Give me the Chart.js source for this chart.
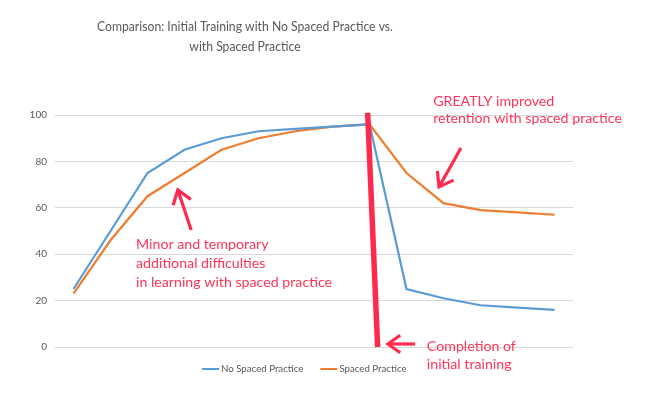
<!DOCTYPE html>
<html>
<head>
<meta charset="utf-8">
<script src="https://cdn.jsdelivr.net/npm/chart.js@4"></script>
<style>
  html, body { margin: 0; padding: 0; background: #ffffff; }
  #wrap { width: 648px; height: 397px; position: relative; }
</style>
</head>
<body>
<div id="wrap"><canvas id="c" width="648" height="397"></canvas></div>
<script>
// ---- data ----
const categories = ['1','2','3','4','5','6','7','8','9','10','11','12','13','14'];
const noSpacedPractice = [25, 50, 75, 85, 90, 93, 94, 95, 96, 25, 21, 18, 17, 16];
const spacedPractice   = [23, 46, 65, 75, 85, 90, 93, 95, 96, 75, 62, 59, 58, 57];
const seriesNames = ['No Spaced Practice', 'Spaced Practice'];
const titleLines = ['Comparison: Initial Training with No Spaced Practice vs.', 'with Spaced Practice'];
const noteMinor = ['Minor and temporary', 'additional difficulties', 'in learning with spaced practice'];
const noteGreatly = ['GREATLY improved', 'retention with spaced practice'];
const noteCompletion = ['Completion of', 'initial training'];

const RED = '#fe2a4e';
const TXT_RED = '#ff3458';
const GRAY = '#595959';
const FONT = 'Lato, "Open Sans", sans-serif';

function arrow(ctx, x1, y1, x2, y2, head, width) {
  ctx.save();
  ctx.strokeStyle = RED;
  ctx.lineWidth = width;
  ctx.lineCap = 'butt';
  ctx.lineJoin = 'miter';
  ctx.beginPath();
  ctx.moveTo(x1, y1);
  ctx.lineTo(x2, y2);
  ctx.stroke();
  const a = Math.atan2(y2 - y1, x2 - x1);
  const s = 0.62;
  ctx.beginPath();
  ctx.moveTo(x2 - head * Math.cos(a - s), y2 - head * Math.sin(a - s));
  ctx.lineTo(x2, y2);
  ctx.lineTo(x2 - head * Math.cos(a + s), y2 - head * Math.sin(a + s));
  ctx.stroke();
  ctx.restore();
}

function squeezedText(ctx, text, cx, cy, sx) {
  ctx.save();
  ctx.translate(cx, cy);
  ctx.scale(sx, 1);
  ctx.fillText(text, 0, 0);
  ctx.restore();
}

const overlay = {
  id: 'overlay',
  afterDraw(chart) {
    const ctx = chart.ctx;
    const xs = chart.scales.x, ys = chart.scales.y;
    const px = v => xs.getPixelForValue(v);
    const py = v => ys.getPixelForValue(v);

    // title
    ctx.save();
    ctx.fillStyle = GRAY;
    ctx.font = '13.4px ' + FONT;
    ctx.textAlign = 'center';
    ctx.textBaseline = 'middle';
    squeezedText(ctx, titleLines[0], 245, 27, 0.91);
    squeezedText(ctx, titleLines[1], 245, 47, 0.91);
    ctx.restore();

    // legend
    ctx.save();
    ctx.font = '9.7px ' + FONT;
    ctx.textBaseline = 'middle';
    let lx = 202;
    const ly = 369;
    chart.data.datasets.forEach(ds => {
      ctx.strokeStyle = ds.borderColor;
      ctx.lineWidth = 2;
      ctx.beginPath();
      ctx.moveTo(lx, ly); ctx.lineTo(lx + 17, ly);
      ctx.stroke();
      ctx.fillStyle = GRAY;
      ctx.textAlign = 'left';
      ctx.fillText(ds.label, lx + 19, ly);
      lx += 19 + ctx.measureText(ds.label).width + 17;
    });
    ctx.restore();

    // big red "completion" line
    ctx.save();
    ctx.strokeStyle = RED;
    ctx.lineWidth = 5.5;
    ctx.beginPath();
    ctx.moveTo(px(7.95), py(100.9));
    ctx.lineTo(px(8.22), py(0));
    ctx.stroke();
    ctx.restore();

    // arrows
    arrow(ctx, px(9.23), py(1.3), px(8.5), py(1.3), 15, 3.2);
    arrow(ctx, px(10.47), py(85.8), px(9.88), py(69), 16, 3.2);
    arrow(ctx, px(3.18), py(50.4), px(2.82), py(67.7), 16, 3.2);

    // notes
    ctx.save();
    ctx.fillStyle = TXT_RED;
    ctx.font = '14.2px ' + FONT;
    ctx.textAlign = 'left';
    ctx.textBaseline = 'middle';
    noteMinor.forEach((t, k) => ctx.fillText(t, px(1.69), py(44.4) + k * 19));
    noteGreatly.forEach((t, k) => ctx.fillText(t, px(9.72), py(106) + k * 17));
    noteCompletion.forEach((t, k) => ctx.fillText(t, px(9.55), py(0.4) + k * 18));
    ctx.restore();
  }
};

new Chart(document.getElementById('c'), {
  type: 'line',
  data: {
    labels: categories,
    datasets: [
      { label: seriesNames[0], data: noSpacedPractice, borderColor: '#5b9bd5', backgroundColor: '#5b9bd5', borderWidth: 2.2, pointRadius: 0, tension: 0 },
      { label: seriesNames[1], data: spacedPractice, borderColor: '#ed7d31', backgroundColor: '#ed7d31', borderWidth: 2.2, pointRadius: 0, tension: 0 }
    ]
  },
  options: {
    responsive: false,
    animation: false,
    devicePixelRatio: 1,
    layout: { padding: { left: 0, right: 75, top: 115, bottom: 50 } },
    plugins: { legend: { display: false }, title: { display: false }, tooltip: { enabled: false } },
    scales: {
      x: { type: 'category', display: false, offset: true },
      y: {
        min: 0, max: 100,
        ticks: { stepSize: 20, color: GRAY, font: { family: FONT, size: 10 }, padding: 8 },
        grid: { color: '#d9d9d9', lineWidth: 1, drawTicks: false },
        border: { display: false },
        afterFit(scale) { scale.width = 55; }
      }
    }
  },
  plugins: [overlay]
});
</script>
</body>
</html>
